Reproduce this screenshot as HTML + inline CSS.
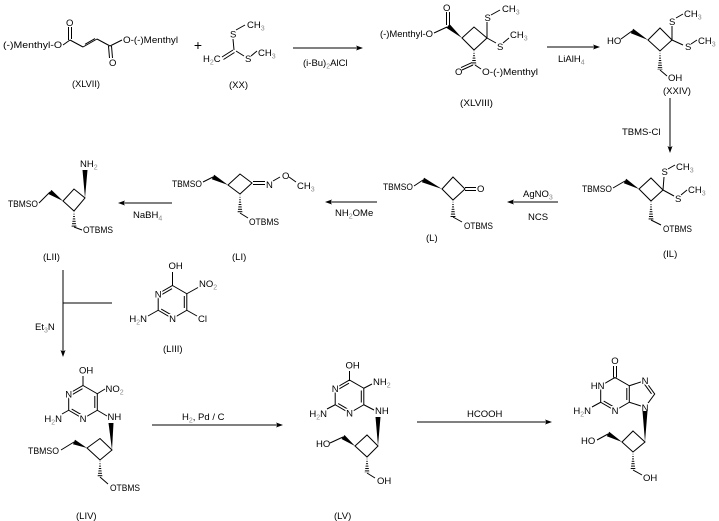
<!DOCTYPE html>
<html><head><meta charset="utf-8"><style>
html,body{margin:0;padding:0;background:#fff;}
svg{display:block;}
text{font-family:"Liberation Sans",Arial,sans-serif;font-size:9.5px;fill:#000;}
.s{font-size:7px;fill:#8a8a8a;}
.h{paint-order:stroke;stroke:#fff;stroke-width:3px;stroke-linejoin:round;}
line,polyline,polygon.r{stroke:#000;stroke-width:1;fill:none;}
polygon.f{fill:#000;stroke:none;}
polygon.hs{fill:url(#hp);stroke:none;}
</style></head><body>
<svg width="719" height="521" viewBox="0 0 719 521" xmlns="http://www.w3.org/2000/svg">
<defs>
<pattern id="hp" width="6" height="2.4" patternUnits="userSpaceOnUse"><rect x="0" y="0" width="6" height="1" fill="#000"/></pattern>
</defs>

<!-- XLVII -->
<text x="3" y="48" textLength="59" lengthAdjust="spacingAndGlyphs">(-)Menthyl-O</text>
<line x1="63" y1="45" x2="70" y2="40"/>
<line x1="68.5" y1="40" x2="68.5" y2="27"/>
<line x1="71.5" y1="39" x2="71.5" y2="27"/>
<text x="66" y="26">O</text>
<line x1="70" y1="40" x2="83" y2="47"/>
<line x1="83" y1="47" x2="97" y2="39"/>
<line x1="85" y1="44.3" x2="95" y2="38.6"/>
<line x1="97" y1="39" x2="110" y2="46"/>
<line x1="108.5" y1="46" x2="109.5" y2="58"/>
<line x1="111.5" y1="46" x2="112.5" y2="58"/>
<text x="109" y="66">O</text>
<line x1="110" y1="46" x2="122" y2="40"/>
<text x="123" y="43" textLength="55" lengthAdjust="spacingAndGlyphs">O-(-)Menthyl</text>
<text x="72" y="87" textLength="28" lengthAdjust="spacingAndGlyphs">(XLVII)</text>

<text x="198" y="50" text-anchor="middle" style="font-size:14px">+</text>

<!-- XX -->
<text x="230" y="37.5">S</text>
<line x1="236" y1="30" x2="245" y2="25"/>
<text x="247" y="28">CH<tspan class="s" dy="2.5">3</tspan></text>
<text x="203" y="62">H<tspan class="s" dy="2.5">2</tspan><tspan dy="-2.5">C</tspan></text>
<line x1="222" y1="57" x2="233" y2="50"/>
<line x1="223.5" y1="59.5" x2="234.5" y2="52.5"/>
<line x1="234" y1="50" x2="233" y2="39"/>
<line x1="236" y1="51" x2="244" y2="56"/>
<text x="245" y="62">S</text>
<line x1="251" y1="56" x2="257" y2="51"/>
<text x="258" y="56">CH<tspan class="s" dy="2.5">3</tspan></text>
<text x="229" y="88">(XX)</text>

<!-- arrow 1 -->
<line x1="293" y1="48" x2="360" y2="48"/>
<polygon class="f" points="363,48 356,45.5 357.5,48 356,50.5"/>
<text x="303" y="66">(i-Bu)<tspan class="s" dy="2.5">2</tspan><tspan dy="-2.5">AlCl</tspan></text>

<!-- XLVIII -->
<text x="380" y="37" textLength="53" lengthAdjust="spacingAndGlyphs">(-)Menthyl-O</text>
<line x1="434" y1="33" x2="447" y2="27"/>
<line x1="446.5" y1="25" x2="446.5" y2="12"/>
<line x1="449.5" y1="26" x2="449.5" y2="12"/>
<text x="443" y="11">O</text>
<polygon class="f" points="462,38 446.4,27.9 449.6,24.1"/>
<polygon class="r" points="462,38 474,27 487,38 474,50"/>
<line x1="487" y1="38" x2="487" y2="22"/>
<text x="484.5" y="21">S</text>
<line x1="491" y1="15" x2="500" y2="10"/>
<text x="502" y="12">CH<tspan class="s" dy="2.5">3</tspan></text>
<line x1="487" y1="38" x2="496" y2="43"/>
<text x="497" y="50">S</text>
<line x1="503" y1="43" x2="509" y2="38"/>
<text x="510" y="38">CH<tspan class="s" dy="2.5">3</tspan></text>
<polygon class="hs" points="474,50 471.5,65 476.5,65"/>
<line x1="473" y1="65" x2="462" y2="70"/>
<line x1="472" y1="62.6" x2="461" y2="67.6"/>
<text x="455" y="75">O</text>
<line x1="475" y1="65" x2="481" y2="69"/>
<text x="482" y="75" textLength="56" lengthAdjust="spacingAndGlyphs">O-(-)Menthyl</text>
<text x="460" y="106" textLength="33" lengthAdjust="spacingAndGlyphs">(XLVIII)</text>

<!-- LiAlH4 arrow -->
<line x1="547" y1="47" x2="597" y2="47"/>
<polygon class="f" points="600,47 593,44.5 594.5,47 593,49.5"/>
<text x="558" y="62">LiAlH<tspan class="s" dy="2.5">4</tspan></text>

<!-- XXIV -->
<text x="607" y="44">HO</text>
<line x1="621" y1="39" x2="632" y2="31"/>
<polygon class="f" points="648,40 630.8,33.2 633.2,28.8"/>
<polygon class="r" points="648,40 660,28 672,40 660,51"/>
<line x1="672" y1="40" x2="672" y2="26"/>
<text x="669" y="25">S</text>
<line x1="676" y1="18" x2="683" y2="14"/>
<text x="684" y="17">CH<tspan class="s" dy="2.5">3</tspan></text>
<line x1="672" y1="40" x2="683" y2="45"/>
<text x="685" y="50">S</text>
<line x1="691" y1="44" x2="697" y2="40"/>
<text x="698" y="44">CH<tspan class="s" dy="2.5">3</tspan></text>
<polygon class="hs" points="660,51 657.5,70 662.5,70"/>
<line x1="660" y1="70" x2="667" y2="76"/>
<text x="668" y="81">OH</text>
<text x="663" y="94">(XXIV)</text>

<!-- vertical arrow -->
<line x1="670" y1="98" x2="670" y2="150"/>
<polygon class="f" points="670,153 667.5,146 670,147.5 672.5,146"/>
<text x="622" y="135">TBMS-Cl</text>

<!-- IL -->
<text x="582" y="192" textLength="30" lengthAdjust="spacingAndGlyphs">TBMSO</text>
<line x1="613" y1="188" x2="625" y2="181"/>
<polygon class="f" points="639,189 623.8,183.2 626.2,178.8"/>
<polygon class="r" points="639,189 651,178 663,190 651,201"/>
<line x1="663" y1="190" x2="664" y2="177"/>
<text x="661.5" y="175">S</text>
<line x1="668" y1="169" x2="675" y2="165"/>
<text x="676" y="170">CH<tspan class="s" dy="2.5">3</tspan></text>
<line x1="663" y1="190" x2="674" y2="196"/>
<text x="675" y="202">S</text>
<line x1="681" y1="195" x2="687" y2="190"/>
<text x="688" y="193">CH<tspan class="s" dy="2.5">3</tspan></text>
<polygon class="hs" points="651,201 648.5,220 653.5,220"/>
<line x1="651" y1="220" x2="661" y2="225"/>
<text x="663" y="232" textLength="29" lengthAdjust="spacingAndGlyphs">OTBMS</text>
<text x="663" y="257">(IL)</text>

<!-- AgNO3 arrow -->
<line x1="510" y1="202" x2="558" y2="202"/>
<polygon class="f" points="507,202 514,199.5 512.5,202 514,204.5"/>
<text x="523" y="197">AgNO<tspan class="s" dy="2.5">3</tspan></text>
<text x="528" y="220">NCS</text>

<!-- L -->
<text x="383" y="190" textLength="30" lengthAdjust="spacingAndGlyphs">TBMSO</text>
<line x1="414" y1="186" x2="423" y2="180"/>
<polygon class="f" points="442,189 421.9,182.3 424.1,177.7"/>
<polygon class="r" points="442,189 453,177 465,189 453,200"/>
<line x1="465" y1="187.5" x2="476" y2="187.5"/>
<line x1="465" y1="190.5" x2="476" y2="190.5"/>
<text x="477" y="192">O</text>
<polygon class="hs" points="453,200 450.5,217 455.5,217"/>
<line x1="453" y1="217" x2="462" y2="222"/>
<text x="464" y="229" textLength="29" lengthAdjust="spacingAndGlyphs">OTBMS</text>
<text x="426" y="241">(L)</text>

<!-- NH2OMe arrow -->
<line x1="328" y1="202" x2="377" y2="202"/>
<polygon class="f" points="325,202 332,199.5 330.5,202 332,204.5"/>
<text x="335" y="216">NH<tspan class="s" dy="2.5">2</tspan><tspan dy="-2.5">OMe</tspan></text>

<!-- LI -->
<text x="172" y="187" textLength="30" lengthAdjust="spacingAndGlyphs">TBMSO</text>
<line x1="203" y1="182" x2="213" y2="177"/>
<polygon class="f" points="228,185 211.8,179.2 214.2,174.8"/>
<polygon class="r" points="228,185 240,174 252,183 240,194"/>
<line x1="253" y1="181.5" x2="265" y2="181.5"/>
<line x1="253" y1="184.5" x2="265" y2="184.5"/>
<text x="266" y="188">N</text>
<line x1="273" y1="181" x2="280" y2="177"/>
<text x="282" y="179">O</text>
<line x1="289" y1="177" x2="296" y2="182"/>
<text x="297" y="189">CH<tspan class="s" dy="2.5">3</tspan></text>
<polygon class="hs" points="240,194 237.5,213 242.5,213"/>
<line x1="240" y1="213" x2="248" y2="218"/>
<text x="249" y="225" textLength="30" lengthAdjust="spacingAndGlyphs">OTBMS</text>
<text x="232" y="260">(LI)</text>

<!-- NaBH4 arrow -->
<line x1="121" y1="203" x2="172" y2="203"/>
<polygon class="f" points="118,203 125,200.5 123.5,203 125,205.5"/>
<text x="133" y="218">NaBH<tspan class="s" dy="2.5">4</tspan></text>

<!-- LII -->
<text x="80" y="167">NH<tspan class="s" dy="2.5">2</tspan></text>
<polygon class="f" points="85,198 82.5,170 87.5,170"/>
<text x="8" y="207" textLength="30" lengthAdjust="spacingAndGlyphs">TBMSO</text>
<line x1="39" y1="203" x2="50" y2="192"/>
<polygon class="f" points="63,201 48.6,194.1 51.4,189.9"/>
<polygon class="r" points="63,201 74,189 85,198 74,211"/>
<polygon class="hs" points="74,211 71.5,227 76.5,227"/>
<line x1="74" y1="227" x2="82" y2="230"/>
<text x="83" y="233" textLength="30" lengthAdjust="spacingAndGlyphs">OTBMS</text>
<text x="43" y="260">(LII)</text>

<!-- Et3N arrow -->
<line x1="63" y1="270" x2="63" y2="354"/>
<polygon class="f" points="63,357 60.5,350 63,351.5 65.5,350"/>
<line x1="63" y1="303" x2="112" y2="303"/>
<text x="35" y="330">Et<tspan class="s" dy="2.5">3</tspan><tspan dy="-2.5">N</tspan></text>

<!-- LIII -->
<polygon class="r" points="172.5,285.5 186.8,293.75 186.8,310.25 172.5,318.5 158.2,310.25 158.2,293.75"/>
<line x1="184.3" y1="296" x2="184.3" y2="308"/>
<line x1="161.2" y1="294.9" x2="172" y2="288.7"/>
<line x1="161.2" y1="309.1" x2="172" y2="315.3"/>
<line x1="172.5" y1="285.5" x2="172.5" y2="272"/>
<text x="168.5" y="269">OH</text>
<line x1="186.8" y1="293.75" x2="198" y2="287.5"/>
<text x="199" y="287">NO<tspan class="s" dy="2.5">2</tspan></text>
<line x1="186.8" y1="310.25" x2="197" y2="316"/>
<text x="198" y="322">Cl</text>
<line x1="158.2" y1="310.25" x2="148" y2="316"/>
<text x="147" y="322" text-anchor="end">H<tspan class="s" dy="2.5">2</tspan><tspan dy="-2.5">N</tspan></text>
<text class="h" x="158.2" y="297.5" text-anchor="middle">N</text>
<text class="h" x="172.5" y="322" text-anchor="middle">N</text>
<text x="163" y="352">(LIII)</text>

<!-- LIV -->
<polygon class="r" points="83,385.5 97.3,393.75 97.3,410.25 83,418.5 68.7,410.25 68.7,393.75"/>
<line x1="94.8" y1="396" x2="94.8" y2="408"/>
<line x1="71.7" y1="394.9" x2="82.5" y2="388.7"/>
<line x1="71.7" y1="409.1" x2="82.5" y2="415.3"/>
<line x1="83" y1="385.5" x2="83" y2="376"/>
<text x="79" y="373.5">OH</text>
<line x1="97.3" y1="393.75" x2="105" y2="389"/>
<text x="105.5" y="392">NO<tspan class="s" dy="2.5">2</tspan></text>
<line x1="97.3" y1="410.25" x2="107" y2="416"/>
<text x="107.5" y="420">NH</text>
<line x1="68.7" y1="410.25" x2="62" y2="414"/>
<text x="62" y="422" text-anchor="end">H<tspan class="s" dy="2.5">2</tspan><tspan dy="-2.5">N</tspan></text>
<text class="h" x="68.7" y="397.5" text-anchor="middle">N</text>
<text class="h" x="83" y="422" text-anchor="middle">N</text>
<polygon class="f" points="112,450 108.5,423 113.5,423"/>
<text x="28" y="454" textLength="31" lengthAdjust="spacingAndGlyphs">TBMSO</text>
<line x1="61" y1="450" x2="74" y2="442"/>
<polygon class="f" points="87,448 72.95,444.27 75.05,439.73"/>
<polygon class="r" points="87,448 100,438.5 112,450 100,460"/>
<polygon class="hs" points="100,460 97.5,477 102.5,477"/>
<line x1="100" y1="477" x2="108" y2="484"/>
<text x="110" y="491" textLength="30" lengthAdjust="spacingAndGlyphs">OTBMS</text>
<text x="76" y="519">(LIV)</text>

<!-- H2 Pd/C arrow -->
<line x1="152" y1="425" x2="280" y2="425"/>
<polygon class="f" points="283,425 276,422.5 277.5,425 276,427.5"/>
<text x="182" y="420">H<tspan class="s" dy="2.5">2</tspan><tspan dy="-2.5">, Pd / C</tspan></text>

<!-- LV -->
<polygon class="r" points="349.5,380 363.8,388.25 363.8,404.75 349.5,413 335.2,404.75 335.2,388.25"/>
<line x1="361.3" y1="390.5" x2="361.3" y2="402.5"/>
<line x1="338.2" y1="389.4" x2="349" y2="383.2"/>
<line x1="338.2" y1="403.6" x2="349" y2="409.8"/>
<line x1="349.5" y1="380" x2="349.5" y2="371"/>
<text x="345.5" y="368.5">OH</text>
<line x1="363.8" y1="388.25" x2="372" y2="384"/>
<text x="373" y="385">NH<tspan class="s" dy="2.5">2</tspan></text>
<line x1="363.8" y1="404.75" x2="374" y2="410"/>
<text x="375" y="414">NH</text>
<line x1="335.2" y1="404.75" x2="327" y2="409"/>
<text x="327" y="417" text-anchor="end">H<tspan class="s" dy="2.5">2</tspan><tspan dy="-2.5">N</tspan></text>
<text class="h" x="335.2" y="392" text-anchor="middle">N</text>
<text class="h" x="349.5" y="416.5" text-anchor="middle">N</text>
<polygon class="f" points="378,446 375.5,417 380.5,417"/>
<text x="316" y="447">HO</text>
<line x1="330" y1="443" x2="343" y2="437"/>
<polygon class="f" points="355,446 341.5,439 344.5,435"/>
<polygon class="r" points="355,446 367,435 378,446 367,457"/>
<polygon class="hs" points="367,457 364.5,473 369.5,473"/>
<line x1="367" y1="473" x2="375" y2="478"/>
<text x="377" y="484">OH</text>
<text x="334" y="519">(LV)</text>

<!-- HCOOH arrow -->
<line x1="417" y1="422" x2="549" y2="422"/>
<polygon class="f" points="552,422 545,419.5 546.5,422 545,424.5"/>
<text x="467" y="417">HCOOH</text>

<!-- product (guanine) -->
<polygon class="r" points="615,377.5 629.3,385.75 629.3,402.25 615,410.5 600.7,402.25 600.7,385.75"/>
<polyline points="629.3,385.75 645,380.6 654.7,394 645,407.3 629.3,402.25"/>
<line x1="626.8" y1="388" x2="626.8" y2="400"/>
<line x1="603.7" y1="401.1" x2="614.5" y2="407.3"/>
<line x1="644.1" y1="383.7" x2="651.5" y2="393.8"/>
<line x1="613.5" y1="377.5" x2="613.5" y2="366"/>
<line x1="616.5" y1="377.5" x2="616.5" y2="366"/>
<text x="615" y="364" text-anchor="middle">O</text>
<text class="h" x="604.5" y="389" text-anchor="end">HN</text>
<text class="h" x="615" y="414" text-anchor="middle">N</text>
<text class="h" x="645" y="384" text-anchor="middle">N</text>
<text class="h" x="645" y="411" text-anchor="middle">N</text>
<line x1="600.7" y1="402.25" x2="592" y2="407"/>
<text x="591" y="414" text-anchor="end">H<tspan class="s" dy="2.5">2</tspan><tspan dy="-2.5">N</tspan></text>
<polygon class="f" points="645,442 642.5,411 647.5,411"/>
<text x="581" y="444">HO</text>
<line x1="597" y1="440" x2="608" y2="434"/>
<polygon class="f" points="622,442 606.8,436.2 609.2,431.8"/>
<polygon class="r" points="622,442 633,431 645,442 633,452"/>
<polygon class="hs" points="633,452 630.5,470 635.5,470"/>
<line x1="633" y1="470" x2="642" y2="475"/>
<text x="643" y="481">OH</text>
</svg>
</body></html>
